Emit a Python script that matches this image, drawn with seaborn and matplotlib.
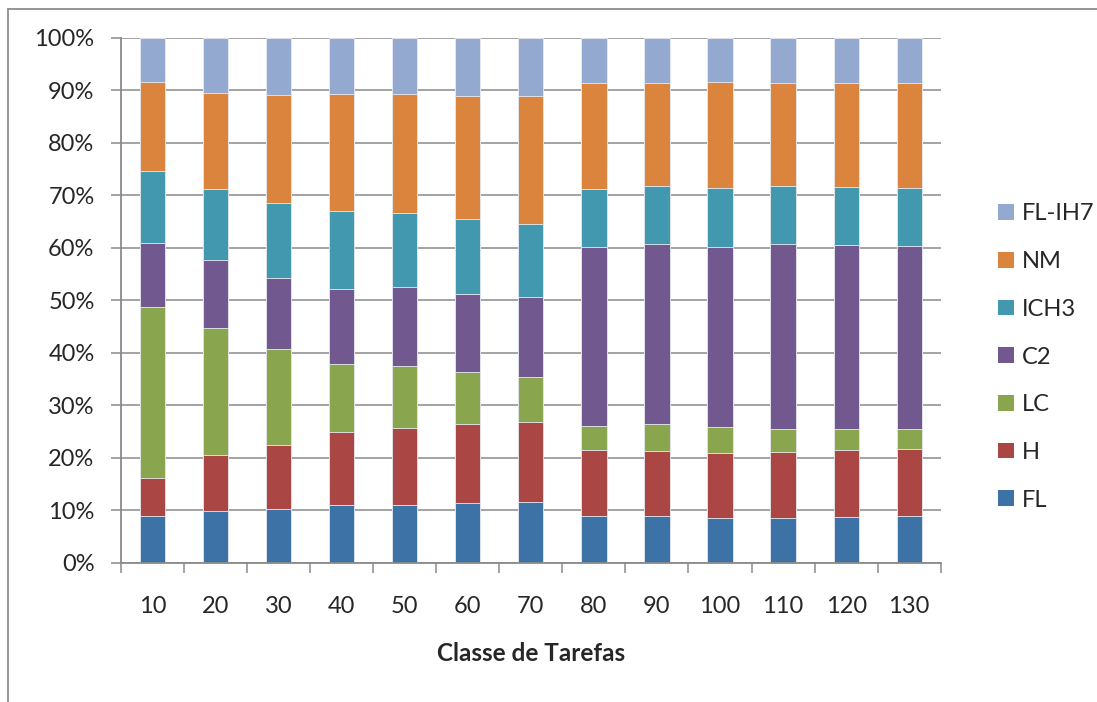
import matplotlib
matplotlib.use("Agg")
import matplotlib.pyplot as plt
from matplotlib.patches import Patch
from matplotlib.lines import Line2D
from matplotlib.ticker import FixedLocator, PercentFormatter
import numpy as np
import pandas as pd
import seaborn as sns

# Task classes on the x axis
classes = ["10", "20", "30", "40", "50", "60", "70", "80", "90", "100", "110", "120", "130"]

# Share (%) of each heuristic per task class, bottom to top of the stack
fl     = [8.8, 9.8, 10.2, 10.9, 10.9, 11.3, 11.5, 8.8, 8.8, 8.5, 8.6, 8.7, 8.9]
h      = [7.4, 10.8, 12.3, 13.9, 14.7, 15.1, 15.3, 12.7, 12.4, 12.4, 12.5, 12.7, 12.7]
lc     = [32.5, 24.1, 18.1, 13.0, 11.8, 9.9, 8.6, 4.5, 5.3, 4.9, 4.4, 4.1, 3.9]
c2     = [12.1, 13.0, 13.7, 14.4, 15.0, 14.9, 15.2, 34.1, 34.1, 34.4, 35.2, 35.0, 34.9]
ich3   = [13.7, 13.5, 14.2, 14.8, 14.1, 14.3, 13.8, 11.1, 11.1, 11.1, 11.0, 11.0, 11.0]
nm     = [17.0, 18.2, 20.6, 22.2, 22.8, 23.4, 24.5, 20.1, 19.7, 20.2, 19.6, 19.8, 20.0]
fl_ih7 = [8.5, 10.6, 10.9, 10.8, 10.7, 11.1, 11.1, 8.7, 8.6, 8.5, 8.7, 8.7, 8.7]

series_names = ["FL", "H", "LC", "C2", "ICH3", "NM", "FL-IH7"]
series_colors = ["#3D72A6", "#AA4643", "#89A54E", "#71588F", "#4198AF", "#DB843D", "#93A9CF"]

df = pd.DataFrame({"FL": fl, "H": h, "LC": lc, "C2": c2, "ICH3": ich3,
                   "NM": nm, "FL-IH7": fl_ih7}, index=classes)
# normalise each column of the stack to 100 %
df = df.div(df.sum(axis=1), axis=0) * 100
cum = df.cumsum(axis=1)

sns.set_theme(style="white")
plt.rcParams["font.family"] = ["Lato", "DejaVu Sans"]

fig = plt.figure(figsize=(10.97, 7.02), dpi=100)
ax = fig.add_axes([121 / 1097, 1 - 562.7 / 702, (940.7 - 121) / 1097, (562.7 - 37.5) / 702])

grid_col = "#8A8A8A"
ax.set_axisbelow(True)
ax.yaxis.grid(True, color=grid_col, linewidth=1.1)

# stacked bars: draw cumulative totals from the top layer down
for name, color in reversed(list(zip(series_names, series_colors))):
    plot_df = pd.DataFrame({"classe": classes, "valor": cum[name].values})
    sns.barplot(data=plot_df, x="classe", y="valor", color=color, width=0.4,
                edgecolor="#E8ECF2", linewidth=0.6, saturation=1, ax=ax, zorder=2)

ax.set_xlim(-0.5, len(classes) - 0.5)
ax.set_ylim(0, 100)
ax.yaxis.set_major_locator(FixedLocator(np.arange(0, 101, 10)))
ax.yaxis.set_major_formatter(PercentFormatter(decimals=0))

for side in ["top", "right"]:
    ax.spines[side].set_visible(False)
for side in ["left", "bottom"]:
    ax.spines[side].set_color(grid_col)
    ax.spines[side].set_linewidth(1.3)

text_col = "#262626"
ax.tick_params(axis="y", which="major", left=True, length=7, width=1.1, color=grid_col,
               pad=12, labelsize=17, labelcolor=text_col)
ax.xaxis.set_minor_locator(FixedLocator(np.arange(-0.5, len(classes), 1.0)))
ax.tick_params(axis="x", which="minor", bottom=True, length=7, width=1.1, color=grid_col)
ax.tick_params(axis="x", which="major", bottom=False, length=0, pad=24,
               labelsize=17, labelcolor=text_col)

ax.set_ylabel("")
ax.set_xlabel("Classe de Tarefas", fontsize=17.5, fontweight="bold", color=text_col, labelpad=18)

handles = [Patch(facecolor=c, edgecolor="none", label=n)
           for n, c in zip(series_names, series_colors)][::-1]
fig.legend(handles=handles, loc="center left", bbox_to_anchor=(977 / 1097, 1 - 357 / 702),
           frameon=False, fontsize=17, handlelength=0.65, handleheight=0.65,
           handletextpad=0.35, labelspacing=1.13, labelcolor=text_col)

# outer chart frame (top and left edges)
fig.add_artist(Line2D([8 / 1097, 1.0], [1 - 9 / 702, 1 - 9 / 702], transform=fig.transFigure,
                      color="#8C8C8C", linewidth=1.3))
fig.add_artist(Line2D([8 / 1097, 8 / 1097], [0.0, 1 - 9 / 702], transform=fig.transFigure,
                      color="#8C8C8C", linewidth=1.3))

fig.savefig("out.png", dpi=100, facecolor="white")
